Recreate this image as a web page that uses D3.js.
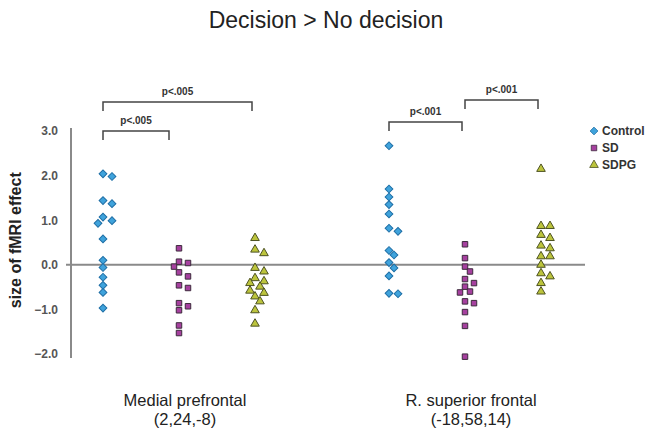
<!DOCTYPE html>
<html>
<head>
<meta charset="utf-8">
<script src="https://cdn.jsdelivr.net/npm/d3@7"></script>
<style>
  body { margin: 0; background: #fff; }
  text { font-family: "Liberation Sans", Arial, sans-serif; }
</style>
</head>
<body>
<div id="chart"></div>
<script>
// regions and groups
const regions = ['Medial prefrontal', 'R. superior frontal'];
const regionCoords = ['(2,24,-8)', '(-18,58,14)'];
const groups = ['Control', 'SD', 'SDPG'];
const yTicks = [-2, -1, 0, 1, 2, 3];

// values, one list per region/group
const mpfControl = [2.04, 1.98, 1.44, 1.37, 1.07, 0.99, 0.93, 0.58, 0.10, -0.06, -0.28, -0.46, -0.62, -0.97];
const mpfSD = [0.37, 0.07, 0.04, -0.04, -0.17, -0.26, -0.46, -0.52, -0.86, -0.93, -1.02, -1.36, -1.53];
const mpfSDPG = [0.60, 0.34, 0.26, -0.07, -0.15, -0.30, -0.37, -0.41, -0.49, -0.58, -0.63, -0.71, -0.82, -1.02, -1.32];
const rsfControl = [2.67, 1.70, 1.52, 1.35, 1.14, 0.82, 0.75, 0.32, 0.22, 0.05, -0.07, -0.25, -0.64, -0.65];
const rsfSD = [0.46, 0.15, -0.04, -0.15, -0.32, -0.41, -0.49, -0.60, -0.62, -0.82, -0.86, -1.06, -1.37, -2.06];
const rsfSDPG = [2.15, 0.87, 0.87, 0.67, 0.60, 0.43, 0.37, 0.19, 0.19, 0.00, -0.19, -0.26, -0.41, -0.60];

// significance brackets: region, from group, to group, label, level
const brackets = [
  { region: 'Medial prefrontal', from: 'Control', to: 'SD', label: 'p<.005', level: 0 },
  { region: 'Medial prefrontal', from: 'Control', to: 'SDPG', label: 'p<.005', level: 0.97 },
  { region: 'R. superior frontal', from: 'Control', to: 'SD', label: 'p<.001', level: 0.3 },
  { region: 'R. superior frontal', from: 'SD', to: 'SDPG', label: 'p<.001', level: 1.03 }
];

const seriesData = [
  { region: regions[0], group: 'Control', values: mpfControl },
  { region: regions[0], group: 'SD', values: mpfSD },
  { region: regions[0], group: 'SDPG', values: mpfSDPG },
  { region: regions[1], group: 'Control', values: rsfControl },
  { region: regions[1], group: 'SD', values: rsfSD },
  { region: regions[1], group: 'SDPG', values: rsfSDPG }
];

const width = 652, height = 428;
const fill = { Control: '#3fa3dc', SD: '#a6409f', SDPG: '#bcc43c' };
const stroke = { Control: '#1f6fa6', SD: '#3c2a3c', SDPG: '#4d5222' };

const svg = d3.select('#chart').append('svg')
  .attr('width', width)
  .attr('height', height);

const y = d3.scaleLinear().domain([-2, 3]).range([354, 131]);
const x0 = d3.scalePoint().domain(regions).range([179, 465]);
const x1 = d3.scalePoint().domain(groups).range([-76, 76]);

const symbolFor = {
  Control: d3.symbol().type(d3.symbolSquare).size(30),
  SD: d3.symbol().type(d3.symbolSquare).size(30),
  SDPG: d3.symbol().type(d3.symbolTriangle).size(32)
};

// title
svg.append('text')
  .attr('x', 326).attr('y', 28)
  .attr('text-anchor', 'middle')
  .style('font-size', '23px')
  .style('fill', '#222')
  .text('Decision > No decision');

// y axis
const yAxis = d3.axisLeft(y)
  .tickValues(yTicks)
  .tickSize(0)
  .tickPadding(13)
  .tickFormat(d3.format('.1f'));

const gy = svg.append('g')
  .attr('transform', 'translate(71,0)')
  .call(yAxis);
gy.select('.domain')
  .attr('d', `M0,${y(3) - 3}V${y(-2) + 4}`)
  .attr('stroke', '#8a8a8a')
  .attr('stroke-width', 2);
gy.selectAll('text')
  .style('font-size', '12px')
  .style('font-weight', 'bold')
  .style('fill', '#555');

svg.append('text')
  .attr('transform', `translate(21,${y(0.55)}) rotate(-90)`)
  .attr('text-anchor', 'middle')
  .style('font-size', '16px')
  .style('font-weight', 'bold')
  .style('fill', '#222')
  .text('size of fMRI effect');

// zero line
svg.append('line')
  .attr('x1', 66).attr('x2', 585)
  .attr('y1', y(0)).attr('y2', y(0))
  .attr('stroke', '#8a8a8a')
  .attr('stroke-width', 2);

// simple dodge so close values spread sideways
function dodge(values) {
  const placed = [];
  const order = values.map((v, i) => i).sort((a, b) => values[b] - values[a]);
  const offsets = [0, 5, -5, 9, -9, 13, -13];
  const out = new Array(values.length);
  order.forEach(i => {
    const py = y(values[i]);
    let dx = offsets.find(o => placed.every(p => Math.hypot(p.dx - o, p.py - py) > 6.5));
    if (dx === undefined) dx = 0;
    placed.push({ dx, py });
    out[i] = dx;
  });
  return out;
}

seriesData.forEach(s => {
  const dxs = dodge(s.values);
  const cx = x0(s.region) + x1(s.group);
  svg.append('g').selectAll('path')
    .data(s.values)
    .join('path')
    .attr('d', symbolFor[s.group])
    .attr('transform', (d, i) => `translate(${cx + dxs[i]},${y(d)})` + (s.group === 'Control' ? ' rotate(45)' : ''))
    .attr('fill', fill[s.group])
    .attr('stroke', stroke[s.group])
    .attr('stroke-width', 1);
});

// brackets
const bracketY = level => 131 - level * 30;
brackets.forEach(b => {
  const xa = x0(b.region) + x1(b.from);
  const xb = x0(b.region) + x1(b.to) - (b.level === 0 ? 10 : 3);
  const by = bracketY(b.level);
  svg.append('path')
    .attr('d', `M${xa},${by + 9}V${by}H${xb}V${by + 9}`)
    .attr('fill', 'none')
    .attr('stroke', '#444')
    .attr('stroke-width', 1.5);
  svg.append('text')
    .attr('x', (xa + xb) / 2)
    .attr('y', by - 7)
    .attr('text-anchor', 'middle')
    .style('font-size', '10px')
    .style('font-weight', 'bold')
    .style('fill', '#333')
    .text(b.label);
});

// region labels
regions.forEach((r, i) => {
  const t = svg.append('text')
    .attr('text-anchor', 'middle')
    .style('font-size', '16.5px')
    .style('fill', '#222');
  t.append('tspan').attr('x', x0(r) + 6).attr('y', 406).text(r);
  t.append('tspan').attr('x', x0(r) + 6).attr('y', 425).text(regionCoords[i]);
});

// legend
const legend = svg.append('g').attr('transform', 'translate(594,131)');
groups.forEach((g, i) => {
  const row = legend.append('g').attr('transform', `translate(0,${i * 17})`);
  row.append('path')
    .attr('d', symbolFor[g])
    .attr('transform', g === 'Control' ? 'rotate(45)' : null)
    .attr('fill', fill[g])
    .attr('stroke', stroke[g])
    .attr('stroke-width', 0.8);
  row.append('text')
    .attr('x', 8).attr('y', 4)
    .style('font-size', '12px')
    .style('font-weight', 'bold')
    .style('fill', '#333')
    .text(g);
});
</script>
</body>
</html>
